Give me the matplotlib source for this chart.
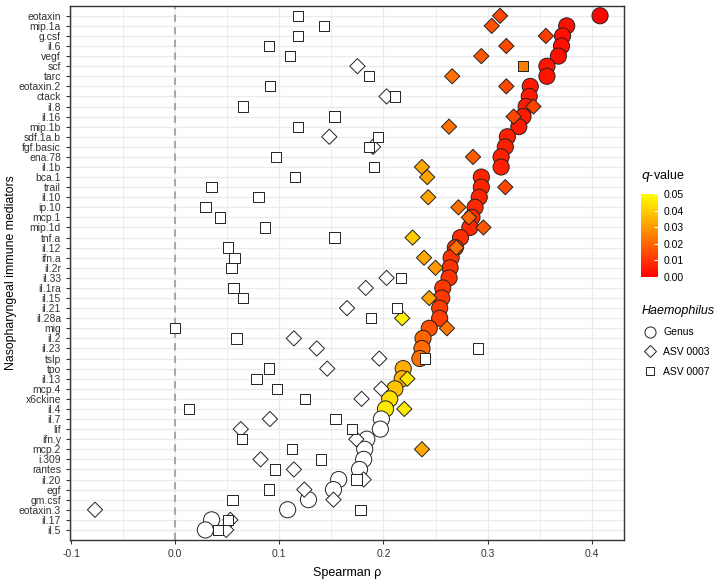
import numpy as np
import matplotlib
matplotlib.use("Agg")
import matplotlib.pyplot as plt
from matplotlib.colors import LinearSegmentedColormap, Normalize
from matplotlib.lines import Line2D

plt.rcParams['font.family'] = ['Liberation Sans', 'DejaVu Sans']

# values
mediators = ['eotaxin', 'mip.1a', 'g.csf', 'il.6', 'vegf', 'scf', 'tarc', 'eotaxin.2',
             'ctack', 'il.8', 'il.16', 'mip.1b', 'sdf.1a.b', 'fgf.basic', 'ena.78', 'il.1b',
             'bca.1', 'trail', 'il.10', 'ip.10', 'mcp.1', 'mip.1d', 'tnf.a', 'il.12',
             'ifn.a', 'il.2r', 'il.33', 'il.1ra', 'il.15', 'il.21', 'il.28a', 'mig',
             'il.2', 'il.23', 'tslp', 'tpo', 'il.13', 'mcp.4', 'x6ckine', 'il.4',
             'il.7', 'lif', 'ifn.y', 'mcp.2', 'i.309', 'rantes', 'il.20', 'egf',
             'gm.csf', 'eotaxin.3', 'il.17', 'il.5']

genus_rho = [0.408, 0.376, 0.372, 0.371, 0.368, 0.357, 0.357, 0.341, 0.340, 0.337,
             0.334, 0.330, 0.319, 0.317, 0.313, 0.313, 0.294, 0.294, 0.292, 0.288,
             0.285, 0.283, 0.274, 0.269, 0.265, 0.264, 0.263, 0.257, 0.256, 0.254,
             0.254, 0.244, 0.238, 0.237, 0.235, 0.219, 0.218, 0.211, 0.206, 0.202,
             0.198, 0.197, 0.184, 0.182, 0.181, 0.177, 0.157, 0.152, 0.128, 0.108,
             0.035, 0.029]
asv3_rho = [0.312, 0.304, 0.356, 0.318, 0.294, 0.175, 0.266, 0.318, 0.203, 0.344,
            0.325, 0.263, 0.148, 0.190, 0.286, 0.237, 0.242, 0.317, 0.243, 0.272,
            0.282, 0.296, 0.228, 0.270, 0.239, 0.250, 0.203, 0.183, 0.244, 0.165,
            0.218, 0.261, 0.114, 0.136, 0.196, 0.146, 0.223, 0.198, 0.179, 0.220,
            0.091, 0.063, 0.174, 0.237, 0.082, 0.114, 0.181, 0.124, 0.152, -0.077,
            0.053, 0.049]
asv7_rho = [0.118, 0.143, 0.118, 0.090, 0.110, 0.334, 0.186, 0.091, 0.211, 0.065,
            0.153, 0.118, 0.195, 0.186, 0.097, 0.191, 0.115, 0.035, 0.080, 0.029,
            0.043, 0.086, 0.153, 0.051, 0.057, 0.054, 0.217, 0.056, 0.065, 0.213,
            0.188, 0.000, 0.059, 0.291, 0.240, 0.090, 0.078, 0.098, 0.125, 0.013,
            0.154, 0.170, 0.064, 0.112, 0.140, 0.096, 0.174, 0.090, 0.055, 0.178,
            0.051, 0.041]

nan = np.nan
# q-values (nan = not significant, drawn white)
genus_q = [0.001, 0.003, 0.003, 0.003, 0.003, 0.004, 0.004, 0.005, 0.005, 0.005,
           0.005, 0.005, 0.006, 0.006, 0.006, 0.006, 0.007, 0.007, 0.007, 0.008,
           0.008, 0.008, 0.009, 0.010, 0.010, 0.010, 0.010, 0.011, 0.011, 0.012,
           0.012, 0.016, 0.020, 0.021, 0.022, 0.034, 0.035, 0.038, 0.044, 0.046,
           nan, nan, nan, nan, nan, nan, nan, nan, nan, nan, nan, nan]
asv3_q = [0.014, 0.016, 0.012, 0.014, 0.017, nan, 0.022, 0.014, nan, 0.013,
          0.014, 0.022, nan, nan, 0.018, 0.033, 0.032, 0.014, 0.032, 0.022,
          0.020, 0.017, 0.040, 0.022, 0.033, 0.030, nan, nan, 0.032, nan,
          0.047, 0.024, nan, nan, nan, nan, 0.045, nan, nan, 0.046,
          nan, nan, nan, 0.033, nan, nan, nan, nan, nan, nan, nan, nan]
asv7_q = [nan] * 5 + [0.025] + [nan] * 46

cmap = LinearSegmentedColormap.from_list('qcol', ['#FF0000', '#FFFF00'])
norm = Normalize(0, 0.05)

def fills(q):
    return [cmap(norm(v)) if not np.isnan(v) else 'white' for v in q]

y = np.arange(len(mediators))

fig = plt.figure(figsize=(7.23, 5.83), dpi=100)
ax = fig.add_axes([70/723, 1-540/583, 554/723, 534.3/583])

# grid
for yy in y:
    ax.axhline(yy, color='#EBEBEB', lw=1.0, zorder=0)
for xx in np.arange(-0.1, 0.45, 0.05):
    ax.axvline(xx, color='#EBEBEB', lw=1.0 if round(xx*20) % 2 == 0 else 0.6, zorder=0)
ax.axvline(0, color='#A0A0A0', lw=1.3, ls=(0, (4, 3)), zorder=1)

edge = '#222222'
ax.scatter(genus_rho, y, s=135, marker='o', c=fills(genus_q), edgecolors=edge, linewidths=0.7, zorder=3)
ax.scatter(asv3_rho, y, s=60, marker='D', c=fills(asv3_q), edgecolors=edge, linewidths=0.7, zorder=4)
ax.scatter(asv7_rho, y, s=55, marker='s', c=fills(asv7_q), edgecolors=edge, linewidths=0.7, zorder=5)

ax.set_xlim(-0.101, 0.431)
ax.set_ylim(len(mediators), -1)
ax.set_yticks(y)
ax.set_yticklabels(mediators)
ax.set_xticks([-0.1, 0.0, 0.1, 0.2, 0.3, 0.4])
ax.set_xticklabels(['-0.1', '0.0', '0.1', '0.2', '0.3', '0.4'])
ax.tick_params(axis='both', labelsize=7.5, length=3, width=0.8, colors='#333333', labelcolor='#333333')
for sp in ax.spines.values():
    sp.set_color('#333333')
    sp.set_linewidth(1.0)
ax.set_xlabel('Spearman ρ', fontsize=9, labelpad=6)
ax.set_ylabel('Nasopharyngeal immune mediators', fontsize=8.8)
ax.yaxis.set_label_coords(-0.096, 0.5)

# colorbar
cax = fig.add_axes([641/723, 1-277/583, 17/723, 83/583])
sm = plt.cm.ScalarMappable(cmap=cmap, norm=norm)
cb = fig.colorbar(sm, cax=cax, ticks=[0, 0.01, 0.02, 0.03, 0.04, 0.05])
cb.ax.set_yticklabels(['0.00', '0.01', '0.02', '0.03', '0.04', '0.05'])
cb.outline.set_visible(False)
cb.ax.tick_params(labelsize=7.5, length=3, color='white', direction='in', pad=4)
fig.text(641/723, 1-176/583, r'$q$-value', fontsize=9, va='center', ha='left')

# shape legend
handles = [Line2D([], [], ls='none', marker='o', ms=8, mfc='white', mec=edge, mew=0.7),
           Line2D([], [], ls='none', marker='D', ms=6, mfc='white', mec=edge, mew=0.7),
           Line2D([], [], ls='none', marker='s', ms=6, mfc='white', mec=edge, mew=0.7)]
leg = fig.legend(handles, ['Genus', 'ASV 0003', 'ASV 0007'], loc='upper left',
                 bbox_to_anchor=(634/723, 1-298/583), frameon=False, fontsize=7.5,
                 title='Haemophilus', title_fontproperties={'style': 'italic', 'size': 9},
                 handletextpad=0.5, handlelength=1.6, labelspacing=0.95, borderpad=0.2)
leg._legend_box.align = 'left'

plt.savefig('out.png', dpi=100)
